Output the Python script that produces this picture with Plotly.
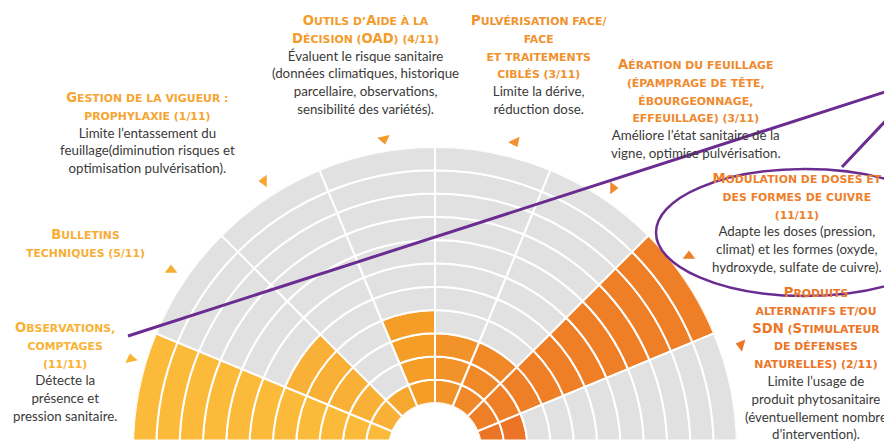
import plotly.graph_objects as go

# ---------------- data ----------------
categories = [
    "Observations, comptages",
    "Bulletins techniques",
    "Gestion de la vigueur : prophylaxie",
    "Outils d'Aide à la Décision (OAD)",
    "Pulvérisation face/face et traitements ciblés",
    "Aération du feuillage",
    "Modulation de doses et des formes de cuivre",
    "Produits alternatifs et/ou SDN",
]
counts = [11, 5, 1, 4, 3, 3, 11, 2]
total = 11

title_lines = [
    ["Observations,", "comptages", "(11/11)"],
    ["Bulletins", "techniques (5/11)"],
    ["Gestion de la vigueur :", "prophylaxie (1/11)"],
    ["Outils d’Aide à la", "Décision (OAD) (4/11)"],
    ["Pulvérisation face/", "face", "et traitements", "ciblés (3/11)"],
    ["Aération du feuillage", "(épamprage de tête,", "ébourgeonnage,", "effeuillage) (3/11)"],
    ["Modulation de doses et", "des formes de cuivre", "(11/11)"],
    ["Produits", "alternatifs et/ou", "SDN (Stimulateur", "de défenses", "naturelles) (2/11)"],
]
body_lines = [
    ["Détecte la", "présence et", "pression sanitaire."],
    [],
    ["Limite l’entassement du", "feuillage(diminution risques et", "optimisation pulvérisation)."],
    ["Évaluent le risque sanitaire", "(données climatiques, historique", "parcellaire, observations,", "sensibilité des variétés)."],
    ["Limite la dérive,", "réduction dose."],
    ["Améliore l’état sanitaire de la", "vigne, optimise pulvérisation."],
    ["Adapte les doses (pression,", "climat) et les formes (oxyde,", "hydroxyde, sulfate de cuivre)."],
    ["Limite l’usage de", "produit phytosanitaire", "(éventuellement nombre", "d’intervention)."],
]

# ---------------- style ----------------
W, H = 892, 442
CX, CY, R, R0 = 427, 441, 302, 46
fill_colors = ["#FBBA3A", "#F8B037", "#F6A72F", "#F49D27", "#F2932A", "#F08828", "#EE7F27", "#EC7426"]
title_colors = ["#F9B233", "#F7AE36", "#F6A530", "#F39B2B", "#F1922E", "#EF8A2E", "#EE7F2A", "#EC7628"]
GRAY = "#E1E1E1"
BODY = "#3A3A39"
PURPLE = "#6A2C90"

# label block anchor positions (px) and triangle pointers
label_pos = [(57, 363.5), (77, 235.5), (139, 125), (357, 57), (530, 57.5), (688, 101.5), (789, 214.5), (808, 355.5)]
pointers = [(123, 351, "triangle-up", -12), (163, 262, "triangle-up", 0), (256, 173, "triangle-left", 0),
            (376, 131, "triangle-down", -12), (507, 134, "triangle-down", -25), (605, 180, "triangle-right", 0),
            (681, 248, "triangle-up", 0), (733, 337, "triangle-left", 15)]

BIG, SMALL, BODYSZ = 13.2, 10.9, 13.3
TFONT = "DejaVu Sans"


def px(x):
    return x / W


def py(y):
    return 1 - y / H


def smallcaps(line, color):
    out, buf, cur = [], "", None
    for ch in line:
        if ch.isupper():
            size, c = BIG, ch
        elif ch.islower():
            size, c = SMALL, ch.upper()
        else:
            size, c = SMALL, ch
        if size != cur and buf:
            out.append(f"<span style='font-family:{TFONT};font-size:{cur}px;color:{color}'>{buf}</span>")
            buf = ""
        cur = size
        buf += c
    if buf:
        out.append(f"<span style='font-family:{TFONT};font-size:{cur}px;color:{color}'>{buf}</span>")
    return "<b>" + "".join(out) + "</b>"


fig = go.Figure()

sector_w = 180 / len(categories)
for i, (cat, n, col) in enumerate(zip(categories, counts, fill_colors)):
    th = 180 - (i + 0.5) * sector_w
    fig.add_trace(go.Barpolar(
        r=[1] * total,
        base=list(range(total)),
        theta=[th] * total,
        width=[sector_w] * total,
        marker=dict(color=[col if k < n else GRAY for k in range(total)],
                    line=dict(color="white", width=2)),
        name=cat, hoverinfo="skip", showlegend=False,
    ))

# pointer triangles on an invisible pixel-based cartesian overlay
fig.add_trace(go.Scatter(
    x=[p[0] for p in pointers], y=[p[1] for p in pointers], mode="markers",
    marker=dict(symbol=[p[2] for p in pointers], angle=[p[3] for p in pointers],
                size=11, color=title_colors, line=dict(width=0)),
    hoverinfo="skip", showlegend=False,
))

annotations = []
for i in range(len(categories)):
    lines = [smallcaps(t, title_colors[i]) for t in title_lines[i]]
    lines += [f"<span style='font-size:{BODYSZ}px'>{b}</span>" for b in body_lines[i]]
    x, y = label_pos[i]
    annotations.append(dict(
        text="<br>".join(lines), x=px(x), y=py(y), xref="paper", yref="paper",
        xanchor="center", yanchor="middle", align="center", showarrow=False,
        font=dict(family="Lato", size=13.7, color=BODY),
    ))

shapes = [
    dict(type="rect", xref="paper", yref="paper", x0=0, x1=1, y0=0, y1=py(431.5),
         fillcolor="white", line=dict(width=0), layer="above"),
    dict(type="line", xref="paper", yref="paper", x0=px(120), y0=py(328), x1=px(900), y1=py(76.5),
         line=dict(color=PURPLE, width=3), layer="above"),
    dict(type="line", xref="paper", yref="paper", x0=px(834), y0=py(159), x1=px(900), y1=py(89),
         line=dict(color=PURPLE, width=3), layer="above"),
    dict(type="circle", xref="paper", yref="paper", x0=px(648), x1=px(946), y0=py(161), y1=py(288),
         line=dict(color=PURPLE, width=2.5), fillcolor="rgba(0,0,0,0)", layer="above"),
]

fig.update_layout(
    width=W, height=H, margin=dict(l=0, r=0, t=0, b=0),
    paper_bgcolor="white", plot_bgcolor="rgba(0,0,0,0)",
    polar=dict(
        domain=dict(x=[px(CX - R), px(CX + R)], y=[py(CY), py(CY - R)]),
        sector=[0, 180], hole=R0 / R, bgcolor="white", bargap=0, barmode="overlay",
        radialaxis=dict(range=[0, total], visible=False, showgrid=False),
        angularaxis=dict(visible=False, showgrid=False, direction="counterclockwise", rotation=0),
    ),
    xaxis=dict(range=[0, W], visible=False, domain=[0, 1], fixedrange=True),
    yaxis=dict(range=[H, 0], visible=False, domain=[0, 1], fixedrange=True),
    annotations=annotations, shapes=shapes, showlegend=False,
)

fig.write_html("out.html")
